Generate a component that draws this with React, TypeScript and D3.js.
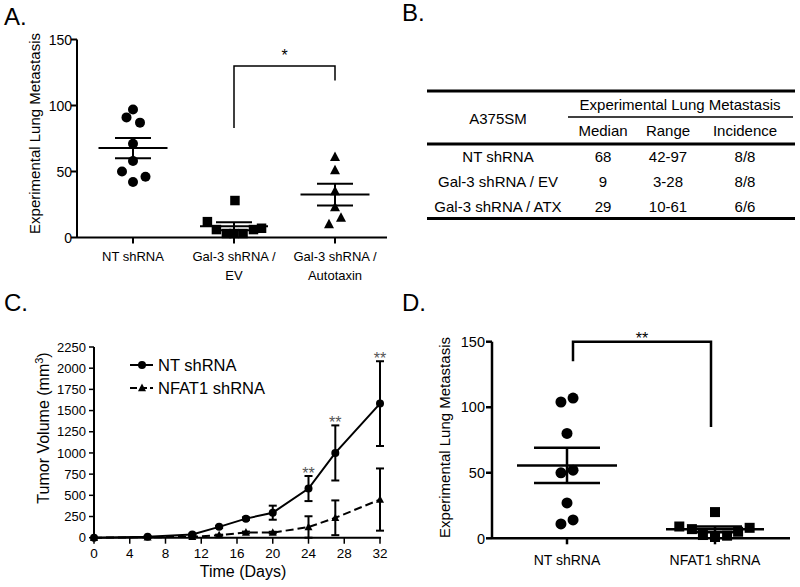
import React from "react";
import * as d3 from "d3";

const FONT = "'Liberation Sans', Arial, Helvetica, sans-serif";

// ---------- Panel A data ----------
const catsA = ["NT shRNA", "Gal-3 shRNA / EV", "Gal-3 shRNA / Autotaxin"];
const catLabelsA = [["NT shRNA"], ["Gal-3 shRNA /", "EV"], ["Gal-3 shRNA /", "Autotaxin"]];
const ntA = [97, 91, 87, 71, 58, 50, 46, 42];
const evA = [28, 12, 6, 3, 3, 3, 6, 7];
const atxA = [61, 51, 35, 23, 15, 10];
const ticksA = [0, 50, 100, 150];
// swarm slots (in marker widths)
const slotNtA = [0, -0.65, 0.7, 0, 0, -1.1, 1.25, 0];
const slotEvA = [0.1, -2.8, -1.85, -0.8, 0, 0.95, 2.05, 2.9];
const slotAtxA = [0, 0, 0, 0, 0.6, -0.6];

// ---------- Panel B data ----------
const tableRows = ["NT shRNA", "Gal-3 shRNA / EV", "Gal-3 shRNA / ATX"];
const tableMedian = ["68", "9", "29"];
const tableRange = ["42-97", "3-28", "10-61"];
const tableIncidence = ["8/8", "8/8", "6/6"];
const tableCols = ["Median", "Range", "Incidence"];

// ---------- Panel C data ----------
const days = [0, 6, 11, 14, 17, 20, 24, 27, 32];
const ntMean = [0, 12, 38, 128, 225, 295, 580, 1000, 1582];
const ntErr = [0, 5, 10, 12, 15, 83, 148, 325, 500];
const nfatMean = [0, 5, 10, 30, 62, 60, 125, 235, 450];
const nfatErr = [0, 3, 5, 6, 10, 10, 128, 205, 367];
const sigDays = [24, 27, 32];
const xTicksC = [0, 4, 8, 12, 16, 20, 24, 28, 32];
const yTicksC = [0, 250, 500, 750, 1000, 1250, 1500, 1750, 2000, 2250];

// ---------- Panel D data ----------
const catsD = ["NT shRNA", "NFAT1 shRNA"];
const ntD = [107, 104, 80, 52, 50, 27, 14, 11];
const nfatD = [20, 9, 7, 5, 8, 2.5, 1, 2];
const ticksD = [0, 50, 100, 150];
const slotNtD = [0.55, -0.55, 0, 0.55, -0.55, 0, 0.55, -0.55];
const slotNfatD = [0, -3.4, -2.2, 2.2, 3.3, -1.15, 0, 1.15];

function stats(v: number[]) {
  const m = d3.mean(v) as number;
  const sd = d3.deviation(v) as number;
  return { m, sem: sd / Math.sqrt(v.length) };
}

function tri(x: number, y: number, s: number) {
  return `M${x},${y - s * 0.55}L${x + s / 2},${y + s * 0.4}L${x - s / 2},${y + s * 0.4}Z`;
}

type Shape = "circle" | "square" | "triangle";

function Marker({ x, y, shape, size }: { x: number; y: number; shape: Shape; size: number }) {
  if (shape === "circle") return <circle cx={x} cy={y} r={size / 2} fill="#000" />;
  if (shape === "square") return <rect x={x - size / 2} y={y - size / 2} width={size} height={size} fill="#000" />;
  return <path d={tri(x, y, size)} fill="#000" />;
}

function Group({ values, slots, cx, y, shape, size, slotW, meanHW, capHW, lw }: any) {
  const { m, sem } = stats(values);
  return (
    <g>
      {values.map((v: number, i: number) => (
        <Marker key={i} x={cx + slots[i] * slotW} y={y(v)} shape={shape} size={size} />
      ))}
      <line x1={cx - meanHW} x2={cx + meanHW} y1={y(m)} y2={y(m)} stroke="#000" strokeWidth={lw} />
      <line x1={cx - capHW} x2={cx + capHW} y1={y(m + sem)} y2={y(m + sem)} stroke="#000" strokeWidth={lw} />
      <line x1={cx - capHW} x2={cx + capHW} y1={y(m - sem)} y2={y(m - sem)} stroke="#000" strokeWidth={lw} />
      <line x1={cx} x2={cx} y1={y(m + sem)} y2={y(m - sem)} stroke="#000" strokeWidth={lw} />
    </g>
  );
}

function PanelA() {
  const x = d3.scalePoint<string>().domain(catsA).range([133, 335]);
  const y = d3.scaleLinear().domain([0, 150]).range([237.5, 39.5]);
  const axL = 77, axR = 387;
  const cEV = x(catsA[1]) as number, cATX = x(catsA[2]) as number;
  return (
    <g>
      <text x={4} y={25} fontSize={24} fontFamily={FONT}>A.</text>
      <line x1={axL} x2={axL} y1={y(150)} y2={y(0)} stroke="#000" strokeWidth={2} />
      <line x1={axL} x2={axR} y1={y(0)} y2={y(0)} stroke="#000" strokeWidth={2} />
      {ticksA.map((t) => (
        <g key={t}>
          <line x1={axL - 6} x2={axL} y1={y(t)} y2={y(t)} stroke="#000" strokeWidth={2} />
          <text x={axL - 5} y={y(t)} dy="0.36em" textAnchor="end" fontSize={14} fontFamily={FONT}>{t}</text>
        </g>
      ))}
      {catsA.map((c, i) => (
        <g key={c}>
          <line x1={x(c)} x2={x(c)} y1={y(0)} y2={y(0) + 6} stroke="#000" strokeWidth={2} />
          {catLabelsA[i].map((l, j) => (
            <text key={j} x={x(c)} y={261 + j * 19} textAnchor="middle" fontSize={13} fontFamily={FONT}>{l}</text>
          ))}
        </g>
      ))}
      <text transform={`translate(35,133.5) rotate(-90)`} dy="0.36em" textAnchor="middle" fontSize={15} fontFamily={FONT}>
        Experimental Lung Metastasis
      </text>
      <Group values={ntA} slots={slotNtA} cx={x(catsA[0])} y={y} shape="circle" size={10} slotW={10} meanHW={34.5} capHW={18} lw={2} />
      <Group values={evA} slots={slotEvA} cx={cEV} y={y} shape="square" size={9.5} slotW={9.5} meanHW={34} capHW={18} lw={2} />
      <Group values={atxA} slots={slotAtxA} cx={cATX} y={y} shape="triangle" size={10} slotW={10} meanHW={34.5} capHW={18} lw={2} />
      <path d={`M${cEV},${y(83)}V${y(130)}H${cATX}V${y(119)}`} fill="none" stroke="#000" strokeWidth={1.5} />
      <text x={(cEV + cATX) / 2} y={61} textAnchor="middle" fontSize={16} fontFamily={FONT}>*</text>
    </g>
  );
}

function PanelB() {
  const colX = [603, 668, 745];
  const rowY = [162, 187, 212];
  return (
    <g fontFamily={FONT}>
      <text x={402} y={21} fontSize={24}>B.</text>
      <line x1={427} x2={795} y1={91} y2={91} stroke="#000" strokeWidth={3} />
      <text x={680} y={110} textAnchor="middle" fontSize={15}>Experimental Lung Metastasis</text>
      <line x1={568} x2={793} y1={117} y2={117} stroke="#000" strokeWidth={1.5} />
      <text x={498} y={123.5} textAnchor="middle" fontSize={15}>A375SM</text>
      {tableCols.map((c, i) => (
        <text key={c} x={colX[i]} y={136} textAnchor="middle" fontSize={15}>{c}</text>
      ))}
      <line x1={427} x2={795} y1={144} y2={144} stroke="#000" strokeWidth={3} />
      {tableRows.map((r, i) => (
        <g key={r}>
          <text x={498} y={rowY[i]} textAnchor="middle" fontSize={15}>{r}</text>
          <text x={colX[0]} y={rowY[i]} textAnchor="middle" fontSize={15}>{tableMedian[i]}</text>
          <text x={colX[1]} y={rowY[i]} textAnchor="middle" fontSize={15}>{tableRange[i]}</text>
          <text x={colX[2]} y={rowY[i]} textAnchor="middle" fontSize={15}>{tableIncidence[i]}</text>
        </g>
      ))}
      <line x1={427} x2={795} y1={218.5} y2={218.5} stroke="#000" strokeWidth={3} />
    </g>
  );
}

function PanelC() {
  const x = d3.scaleLinear().domain([0, 32]).range([94, 380]);
  const y = d3.scaleLinear().domain([0, 2250]).range([537.7, 347]);
  const line = d3.line<number>().x((_, i) => x(days[i])).y((d) => y(d));
  const cap = 4;
  return (
    <g fontFamily={FONT}>
      <text x={4} y={311} fontSize={24}>C.</text>
      <line x1={94} x2={94} y1={y(2250)} y2={y(0)} stroke="#000" strokeWidth={2} />
      <line x1={94} x2={381} y1={y(0)} y2={y(0)} stroke="#000" strokeWidth={2} />
      {yTicksC.map((t) => (
        <g key={t}>
          <line x1={89} x2={94} y1={y(t)} y2={y(t)} stroke="#000" strokeWidth={1.5} />
          <text x={86} y={y(t)} dy="0.36em" textAnchor="end" fontSize={13}>{t}</text>
        </g>
      ))}
      {xTicksC.map((t) => (
        <g key={t}>
          <line x1={x(t)} x2={x(t)} y1={y(0)} y2={y(0) + 6} stroke="#000" strokeWidth={1.5} />
          <text x={x(t)} y={558} textAnchor="middle" fontSize={13.5}>{t}</text>
        </g>
      ))}
      <text x={243} y={577} textAnchor="middle" fontSize={16}>Time (Days)</text>
      <text transform={`translate(43,428) rotate(-90)`} dy="0.36em" textAnchor="middle" fontSize={16}>
        <tspan>Tumor Volume (mm</tspan>
        <tspan dy="-6" fontSize={11}>3</tspan>
        <tspan dy="6">)</tspan>
      </text>
      {/* error bars */}
      {days.map((d, i) => (
        <g key={"e" + d} stroke="#000" strokeWidth={2}>
          {ntErr[i] > 0 && (
            <>
              <line x1={x(d)} x2={x(d)} y1={y(ntMean[i] + ntErr[i])} y2={y(ntMean[i] - ntErr[i])} />
              <line x1={x(d) - cap} x2={x(d) + cap} y1={y(ntMean[i] + ntErr[i])} y2={y(ntMean[i] + ntErr[i])} />
              <line x1={x(d) - cap} x2={x(d) + cap} y1={y(ntMean[i] - ntErr[i])} y2={y(ntMean[i] - ntErr[i])} />
            </>
          )}
          {nfatErr[i] > 0 && (
            <>
              <line x1={x(d)} x2={x(d)} y1={y(nfatMean[i] + nfatErr[i])} y2={y(Math.max(0, nfatMean[i] - nfatErr[i]))} />
              <line x1={x(d) - cap} x2={x(d) + cap} y1={y(nfatMean[i] + nfatErr[i])} y2={y(nfatMean[i] + nfatErr[i])} />
              <line x1={x(d) - cap} x2={x(d) + cap} y1={y(Math.max(0, nfatMean[i] - nfatErr[i]))} y2={y(Math.max(0, nfatMean[i] - nfatErr[i]))} />
            </>
          )}
        </g>
      ))}
      <path d={line(nfatMean) as string} fill="none" stroke="#000" strokeWidth={2} strokeDasharray="8,4" />
      <path d={line(ntMean) as string} fill="none" stroke="#000" strokeWidth={2} />
      {days.map((d, i) => (
        <g key={"m" + d}>
          <path d={tri(x(d), y(nfatMean[i]), 8)} fill="#000" />
          <circle cx={x(d)} cy={y(ntMean[i])} r={4} fill="#000" />
        </g>
      ))}
      {sigDays.map((d) => {
        const i = days.indexOf(d);
        return (
          <text key={"s" + d} x={x(d)} y={y(ntMean[i] + ntErr[i]) + 3} textAnchor="middle" fontSize={16} fill="#555">**</text>
        );
      })}
      {/* legend */}
      <line x1={130} x2={153} y1={365} y2={365} stroke="#000" strokeWidth={2} />
      <circle cx={142} cy={365} r={4} fill="#000" />
      <text x={158} y={370.5} fontSize={16.5}>NT shRNA</text>
      <line x1={130} x2={153} y1={388} y2={388} stroke="#000" strokeWidth={2} strokeDasharray="7,3" />
      <path d={tri(142, 388, 8)} fill="#000" />
      <text x={158} y={393.5} fontSize={16.5}>NFAT1 shRNA</text>
    </g>
  );
}

function PanelD() {
  const x = d3.scalePoint<string>().domain(catsD).range([567, 715]);
  const y = d3.scaleLinear().domain([0, 150]).range([538.3, 341.7]);
  const axL = 492, axR = 790;
  const c0 = x(catsD[0]) as number, c1 = x(catsD[1]) as number;
  return (
    <g fontFamily={FONT}>
      <text x={402} y={311} fontSize={24}>D.</text>
      <line x1={axL} x2={axL} y1={y(150)} y2={y(0)} stroke="#000" strokeWidth={2.5} />
      <line x1={axL} x2={axR} y1={y(0)} y2={y(0)} stroke="#000" strokeWidth={2.5} />
      {ticksD.map((t) => (
        <g key={t}>
          <line x1={axL - 6} x2={axL} y1={y(t)} y2={y(t)} stroke="#000" strokeWidth={2.5} />
          <text x={axL - 7} y={y(t)} dy="0.36em" textAnchor="end" fontSize={14.5}>{t}</text>
        </g>
      ))}
      {catsD.map((c) => (
        <g key={c}>
          <line x1={x(c)} x2={x(c)} y1={y(0)} y2={y(0) + 6} stroke="#000" strokeWidth={2.5} />
          <text x={x(c)} y={565} textAnchor="middle" fontSize={14}>{c}</text>
        </g>
      ))}
      <text transform={`translate(445,437.5) rotate(-90)`} dy="0.36em" textAnchor="middle" fontSize={15}>
        Experimental Lung Metastasis
      </text>
      <Group values={ntD} slots={slotNtD} cx={c0} y={y} shape="circle" size={11} slotW={11} meanHW={50} capHW={33} lw={2.5} />
      <Group values={nfatD} slots={slotNfatD} cx={c1} y={y} shape="square" size={10} slotW={10.5} meanHW={49} capHW={27} lw={2.5} />
      <path d={`M${c0 + 6},${y(135)}V${y(150)}H${c1 - 4}V${y(85)}`} fill="none" stroke="#000" strokeWidth={2.5} />
      <text x={(c0 + c1) / 2 + 1} y={344} textAnchor="middle" fontSize={16}>**</text>
    </g>
  );
}

export default function App() {
  return (
    <svg
      width={800}
      height={587}
      viewBox="0 0 800 587"
      style={{ position: "absolute", left: 0, top: 0, background: "#fff" }}
    >
      <rect width={800} height={587} fill="#fff" />
      <PanelA />
      <PanelB />
      <PanelC />
      <PanelD />
    </svg>
  );
}
